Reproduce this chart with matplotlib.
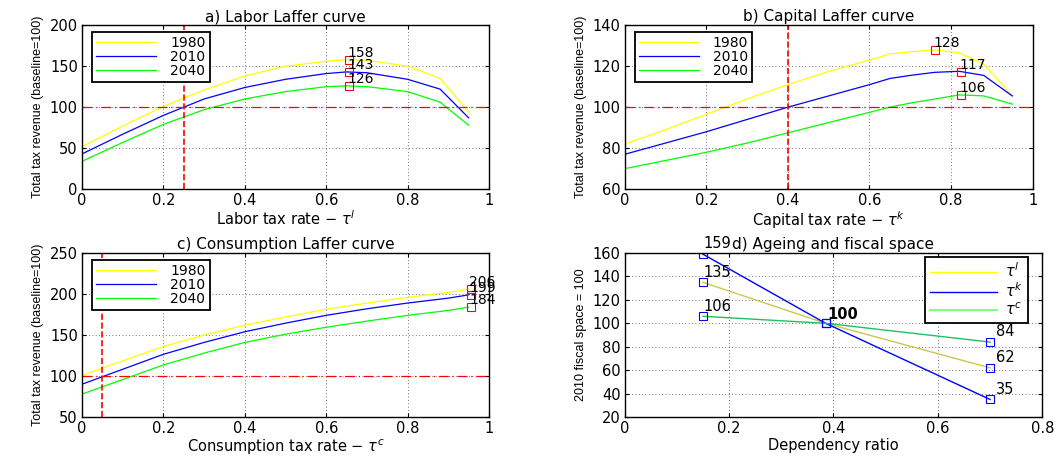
import matplotlib
matplotlib.use("Agg")
import matplotlib.pyplot as plt
from matplotlib.lines import Line2D
from matplotlib.ticker import FuncFormatter

plt.rcParams['font.family'] = ['DejaVu Sans']

years = ['1980', '2010', '2040']

# a) labor
x_lab = [0, 0.1, 0.2, 0.3, 0.4, 0.5, 0.6, 0.65, 0.7, 0.8, 0.88, 0.95]
lab_1980 = [52, 77, 101, 121, 138, 150, 156, 158, 157, 150, 135, 94]
lab_2010 = [43, 67, 90, 110, 124, 134, 141, 143, 142, 134, 122, 87]
lab_2040 = [34, 57, 79, 97, 110, 119, 125, 126, 125, 119, 106, 78]
lab_peak_x = [0.655, 0.655, 0.655]
lab_peak = [158, 143, 126]
lab_now = 0.25

# b) capital
x_cap = [0, 0.1, 0.2, 0.3, 0.4, 0.5, 0.6, 0.65, 0.7, 0.76, 0.82, 0.88, 0.95]
cap_1980 = [82, 89, 96.5, 104, 111, 117.5, 123, 126, 127, 128, 126.5, 121, 105.5]
cap_2010 = [77, 82.5, 88, 94, 100, 105.5, 111, 114, 115.5, 117, 117.5, 115.5, 105.5]
cap_2040 = [70, 74, 78, 82.5, 87.5, 92.5, 97.5, 100, 102, 104, 106, 105.5, 101.5]
cap_peak_x = [0.76, 0.825, 0.825]
cap_peak = [128, 117, 106]
cap_now = 0.4

# c) consumption
x_con = [0, 0.2, 0.3, 0.4, 0.5, 0.6, 0.7, 0.8, 0.9, 0.95]
con_1980 = [101, 136, 150, 162, 172, 181.5, 189, 196, 202, 206]
con_2010 = [90, 126.5, 141, 154, 164.5, 174, 182, 189, 195, 199]
con_2040 = [78, 113.5, 128, 141, 151, 159.5, 167, 174, 180, 184]
con_peak_x = [0.955, 0.955, 0.955]
con_peak = [206, 199, 184]
con_now = 0.05

# d) ageing
dep_ratio = [0.15, 0.385, 0.70]
fs_l = [135, 100, 62]
fs_k = [159, 100, 35]
fs_c = [106, 100, 84]

cols = ['#ffff00', '#0000ff', '#00ff00']
fmt = FuncFormatter(lambda v, p: '%g' % round(v, 3))
narrow = ['Liberation Sans Narrow', 'Liberation Sans', 'DejaVu Sans']
FS = 10.5


def style(ax, xlim, ylim, xstep, ystep):
    ax.set_xlim(*xlim)
    ax.set_ylim(*ylim)
    ax.set_xticks([round(xlim[0] + i * xstep, 3) for i in range(int(round((xlim[1] - xlim[0]) / xstep)) + 1)])
    ax.set_yticks([ylim[0] + i * ystep for i in range(int(round((ylim[1] - ylim[0]) / ystep)) + 1)])
    ax.xaxis.set_major_formatter(fmt)
    ax.grid(True, linestyle=(0, (1, 3)), color='#444444', linewidth=0.6)
    ax.tick_params(direction='in', top=True, right=True, labelsize=10.5, length=3, pad=3)
    for s in ax.spines.values():
        s.set_linewidth(1.0)


def laffer(ax, x, ys, px, py, now, title, xlabel, ylim, ystep):
    for y, c, lab in zip(ys, cols, years):
        ax.plot(x, y, color=c, linewidth=0.9, label=lab)
    ax.axhline(100, color='red', linestyle='-.', linewidth=0.9, dashes=(8, 3, 1, 3))
    ax.axvline(now, color='red', linestyle='--', linewidth=1.2)
    ax.plot(px, py, 's', markerfacecolor='none', markeredgecolor='red', markersize=6, markeredgewidth=0.8)
    for xx, yy in zip(px, py):
        ax.annotate('%d' % yy, (xx, yy), xytext=(-1, 0), textcoords='offset points',
                    ha='left', va='bottom', fontsize=10)
    style(ax, (0, 1), ylim, 0.2, ystep)
    ax.set_title(title, fontsize=11, pad=3)
    ax.set_xlabel(xlabel, fontsize=FS, labelpad=1)
    ax.set_ylabel('Total tax revenue (baseline=100)', fontsize=9, family=narrow, labelpad=4)
    leg = ax.legend(loc='upper left', bbox_to_anchor=(0.025, 0.96), fontsize=10,
                    fancybox=False, edgecolor='black', framealpha=1, borderaxespad=0,
                    handlelength=4.3, handletextpad=1.0, labelspacing=0.0, borderpad=0.3)
    leg.get_frame().set_linewidth(1.3)


fig = plt.figure(figsize=(10.57, 4.58), dpi=100)
ax_a = fig.add_axes([0.0776, 0.587, 0.385, 0.358])
ax_b = fig.add_axes([0.591, 0.587, 0.386, 0.358])
ax_c = fig.add_axes([0.0776, 0.0895, 0.385, 0.358])
ax_d = fig.add_axes([0.591, 0.0895, 0.395, 0.358])

laffer(ax_a, x_lab, [lab_1980, lab_2010, lab_2040], lab_peak_x, lab_peak, lab_now,
       'a) Labor Laffer curve', r'Labor tax rate $-$ $\tau^l$', (0, 200), 50)
laffer(ax_b, x_cap, [cap_1980, cap_2010, cap_2040], cap_peak_x, cap_peak, cap_now,
       'b) Capital Laffer curve', r'Capital tax rate $-$ $\tau^k$', (60, 140), 20)
laffer(ax_c, x_con, [con_1980, con_2010, con_2040], con_peak_x, con_peak, con_now,
       'c) Consumption Laffer curve', r'Consumption tax rate $-$ $\tau^c$', (50, 250), 50)

# d) ageing and fiscal space
ax_d.plot(dep_ratio, fs_l, color='#c8c850', linewidth=1.0)
ax_d.plot(dep_ratio, fs_k, color='#0000ff', linewidth=1.0)
ax_d.plot(dep_ratio, fs_c, color='#20c060', linewidth=1.0)
for ys in (fs_l, fs_k, fs_c):
    ax_d.plot(dep_ratio, ys, 's', markerfacecolor='none', markeredgecolor='#0000ff',
              markersize=6, markeredgewidth=0.8)
for ys in (fs_l, fs_k, fs_c):
    ax_d.annotate('%d' % ys[0], (dep_ratio[0], ys[0]), xytext=(0, 2), textcoords='offset points',
                  ha='left', va='bottom', fontsize=FS)
    ax_d.annotate('%d' % ys[2], (dep_ratio[2], ys[2]), xytext=(4, 2), textcoords='offset points',
                  ha='left', va='bottom', fontsize=FS)
ax_d.annotate('%d' % fs_k[1], (dep_ratio[1], fs_k[1]), xytext=(1, 1), textcoords='offset points',
              ha='left', va='bottom', fontsize=FS, fontweight='bold')
style(ax_d, (0, 0.8), (20, 160), 0.2, 20)
ax_d.set_title('d) Ageing and fiscal space', fontsize=11, pad=3)
ax_d.set_xlabel('Dependency ratio', fontsize=FS, labelpad=1)
ax_d.set_ylabel('2010 fiscal space = 100', fontsize=9, family=narrow, labelpad=4)
handles = [Line2D([], [], color='#ffff00', linewidth=1),
           Line2D([], [], color='#0000ff', linewidth=1),
           Line2D([], [], color='#80ff80', linewidth=1.5)]
leg = ax_d.legend(handles, [r'$\tau^l$', r'$\tau^k$', r'$\tau^c$'], loc='upper right',
                  bbox_to_anchor=(0.965, 0.975), fontsize=10.5, fancybox=False, edgecolor='black',
                  framealpha=1, borderaxespad=0, handlelength=4.6, handletextpad=0.6,
                  labelspacing=0.1, borderpad=0.3)
leg.get_frame().set_linewidth(1.3)

fig.savefig('out.png', dpi=100)
